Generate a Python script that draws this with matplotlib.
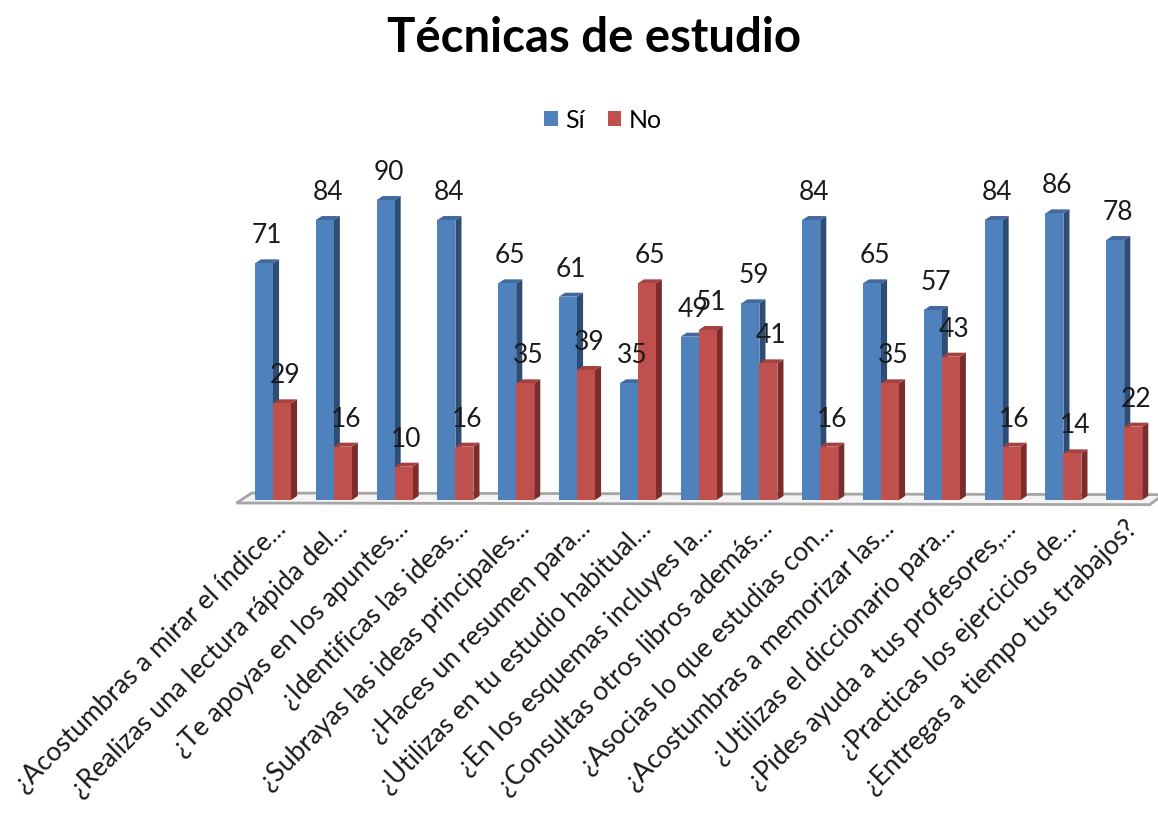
import matplotlib.pyplot as plt
from matplotlib.patches import Polygon, Patch
import numpy as np

plt.rcParams['font.family'] = ['Lato', 'DejaVu Sans']

# Data
preguntas = [
    '¿Acostumbras a mirar el índice...',
    '¿Realizas una lectura rápida del...',
    '¿Te apoyas en los apuntes...',
    '¿Identificas las ideas...',
    '¿Subrayas las ideas principales...',
    '¿Haces un resumen para...',
    '¿Utilizas en tu estudio habitual...',
    '¿En los esquemas incluyes la...',
    '¿Consultas otros libros además...',
    '¿Asocias lo que estudias con...',
    '¿Acostumbras a memorizar las...',
    '¿Utilizas el diccionario para...',
    '¿Pides ayuda a tus profesores,...',
    '¿Practicas los ejercicios de...',
    '¿Entregas a tiempo tus trabajos?',
]
si = [71, 84, 90, 84, 65, 61, 35, 49, 59, 84, 65, 57, 84, 86, 78]
no = [29, 16, 10, 16, 35, 39, 65, 51, 41, 16, 35, 43, 16, 14, 22]

# colours: front, top, side
azul = ('#4F81BD', '#41699B', '#2E4D74')
rojo = ('#C0504D', '#A5423F', '#7C2D2B')

W, H = 1158, 838
fig = plt.figure(figsize=(W / 100, H / 100), dpi=100)
# axes placed so that category i sits at 273 + 60.8*i px and 0..100 spans 500..167 px
ax = fig.add_axes([242.6 / W, 338 / H, 912 / W, 333.3 / H])
ax.set_xlim(-0.5, 14.5)
ax.set_ylim(0, 100)
ax.axis('off')

x = np.arange(len(preguntas))
ancho = 0.296
dx, dy = 0.10, 1.2  # 3D depth offset in data units

# floor plate
suelo = Polygon([(-0.6, -0.9), (14.42, -1.4), (14.42 + 0.22, -1.4 + 3.0), (-0.6 + 0.25, -0.9 + 3.0)],
                closed=True, facecolor='#F4F4F4', edgecolor='#A6A6A6', lw=2, zorder=0, clip_on=False)
ax.add_patch(suelo)

def barras_3d(pos, valores, cols, z0):
    bars = ax.bar(pos, valores, ancho, color=cols[0], zorder=z0 + 2, linewidth=0)
    for k, b in enumerate(bars):
        x0, w, h = b.get_x(), b.get_width(), b.get_height()
        z = z0 + 10 * k
        b.set_zorder(z + 2)
        lado = Polygon([(x0 + w, 0), (x0 + w + dx, dy), (x0 + w + dx, h + dy), (x0 + w, h)],
                       closed=True, facecolor=cols[2], edgecolor='none', zorder=z)
        tapa = Polygon([(x0, h), (x0 + dx, h + dy), (x0 + w + dx, h + dy), (x0 + w, h)],
                       closed=True, facecolor=cols[1], edgecolor='none', zorder=z + 1)
        ax.add_patch(lado)
        ax.add_patch(tapa)
        ax.annotate(str(int(h)), (x0 + w / 2, h), xytext=(3, 20), textcoords='offset pixels',
                    ha='center', va='baseline', fontsize=19, color='#1a1a1a', zorder=200,
                    annotation_clip=False)
    return bars

barras_3d(x - ancho / 2, si, azul, 1)
barras_3d(x + ancho / 2, no, rojo, 5)

for i, txt in enumerate(preguntas):
    ax.annotate(txt, (i, 0), xytext=(15, -30), textcoords='offset pixels',
                rotation=45, rotation_mode='anchor', ha='right', va='baseline',
                fontsize=19, color='#1a1a1a', annotation_clip=False)

fig.text(594 / W, 1 - 38 / H, 'Técnicas de estudio', ha='center', va='center',
         fontsize=34, fontweight='bold')

handles = [Patch(facecolor=azul[0], label='Sí'), Patch(facecolor=rojo[0], label='No')]
fig.legend(handles=handles, loc='center', bbox_to_anchor=(603 / W, 1 - 120 / H), ncol=2,
           frameon=False, fontsize=18, handlelength=0.55, handleheight=0.55,
           handletextpad=0.3, columnspacing=0.9)

fig.savefig('out.png', dpi=100)
